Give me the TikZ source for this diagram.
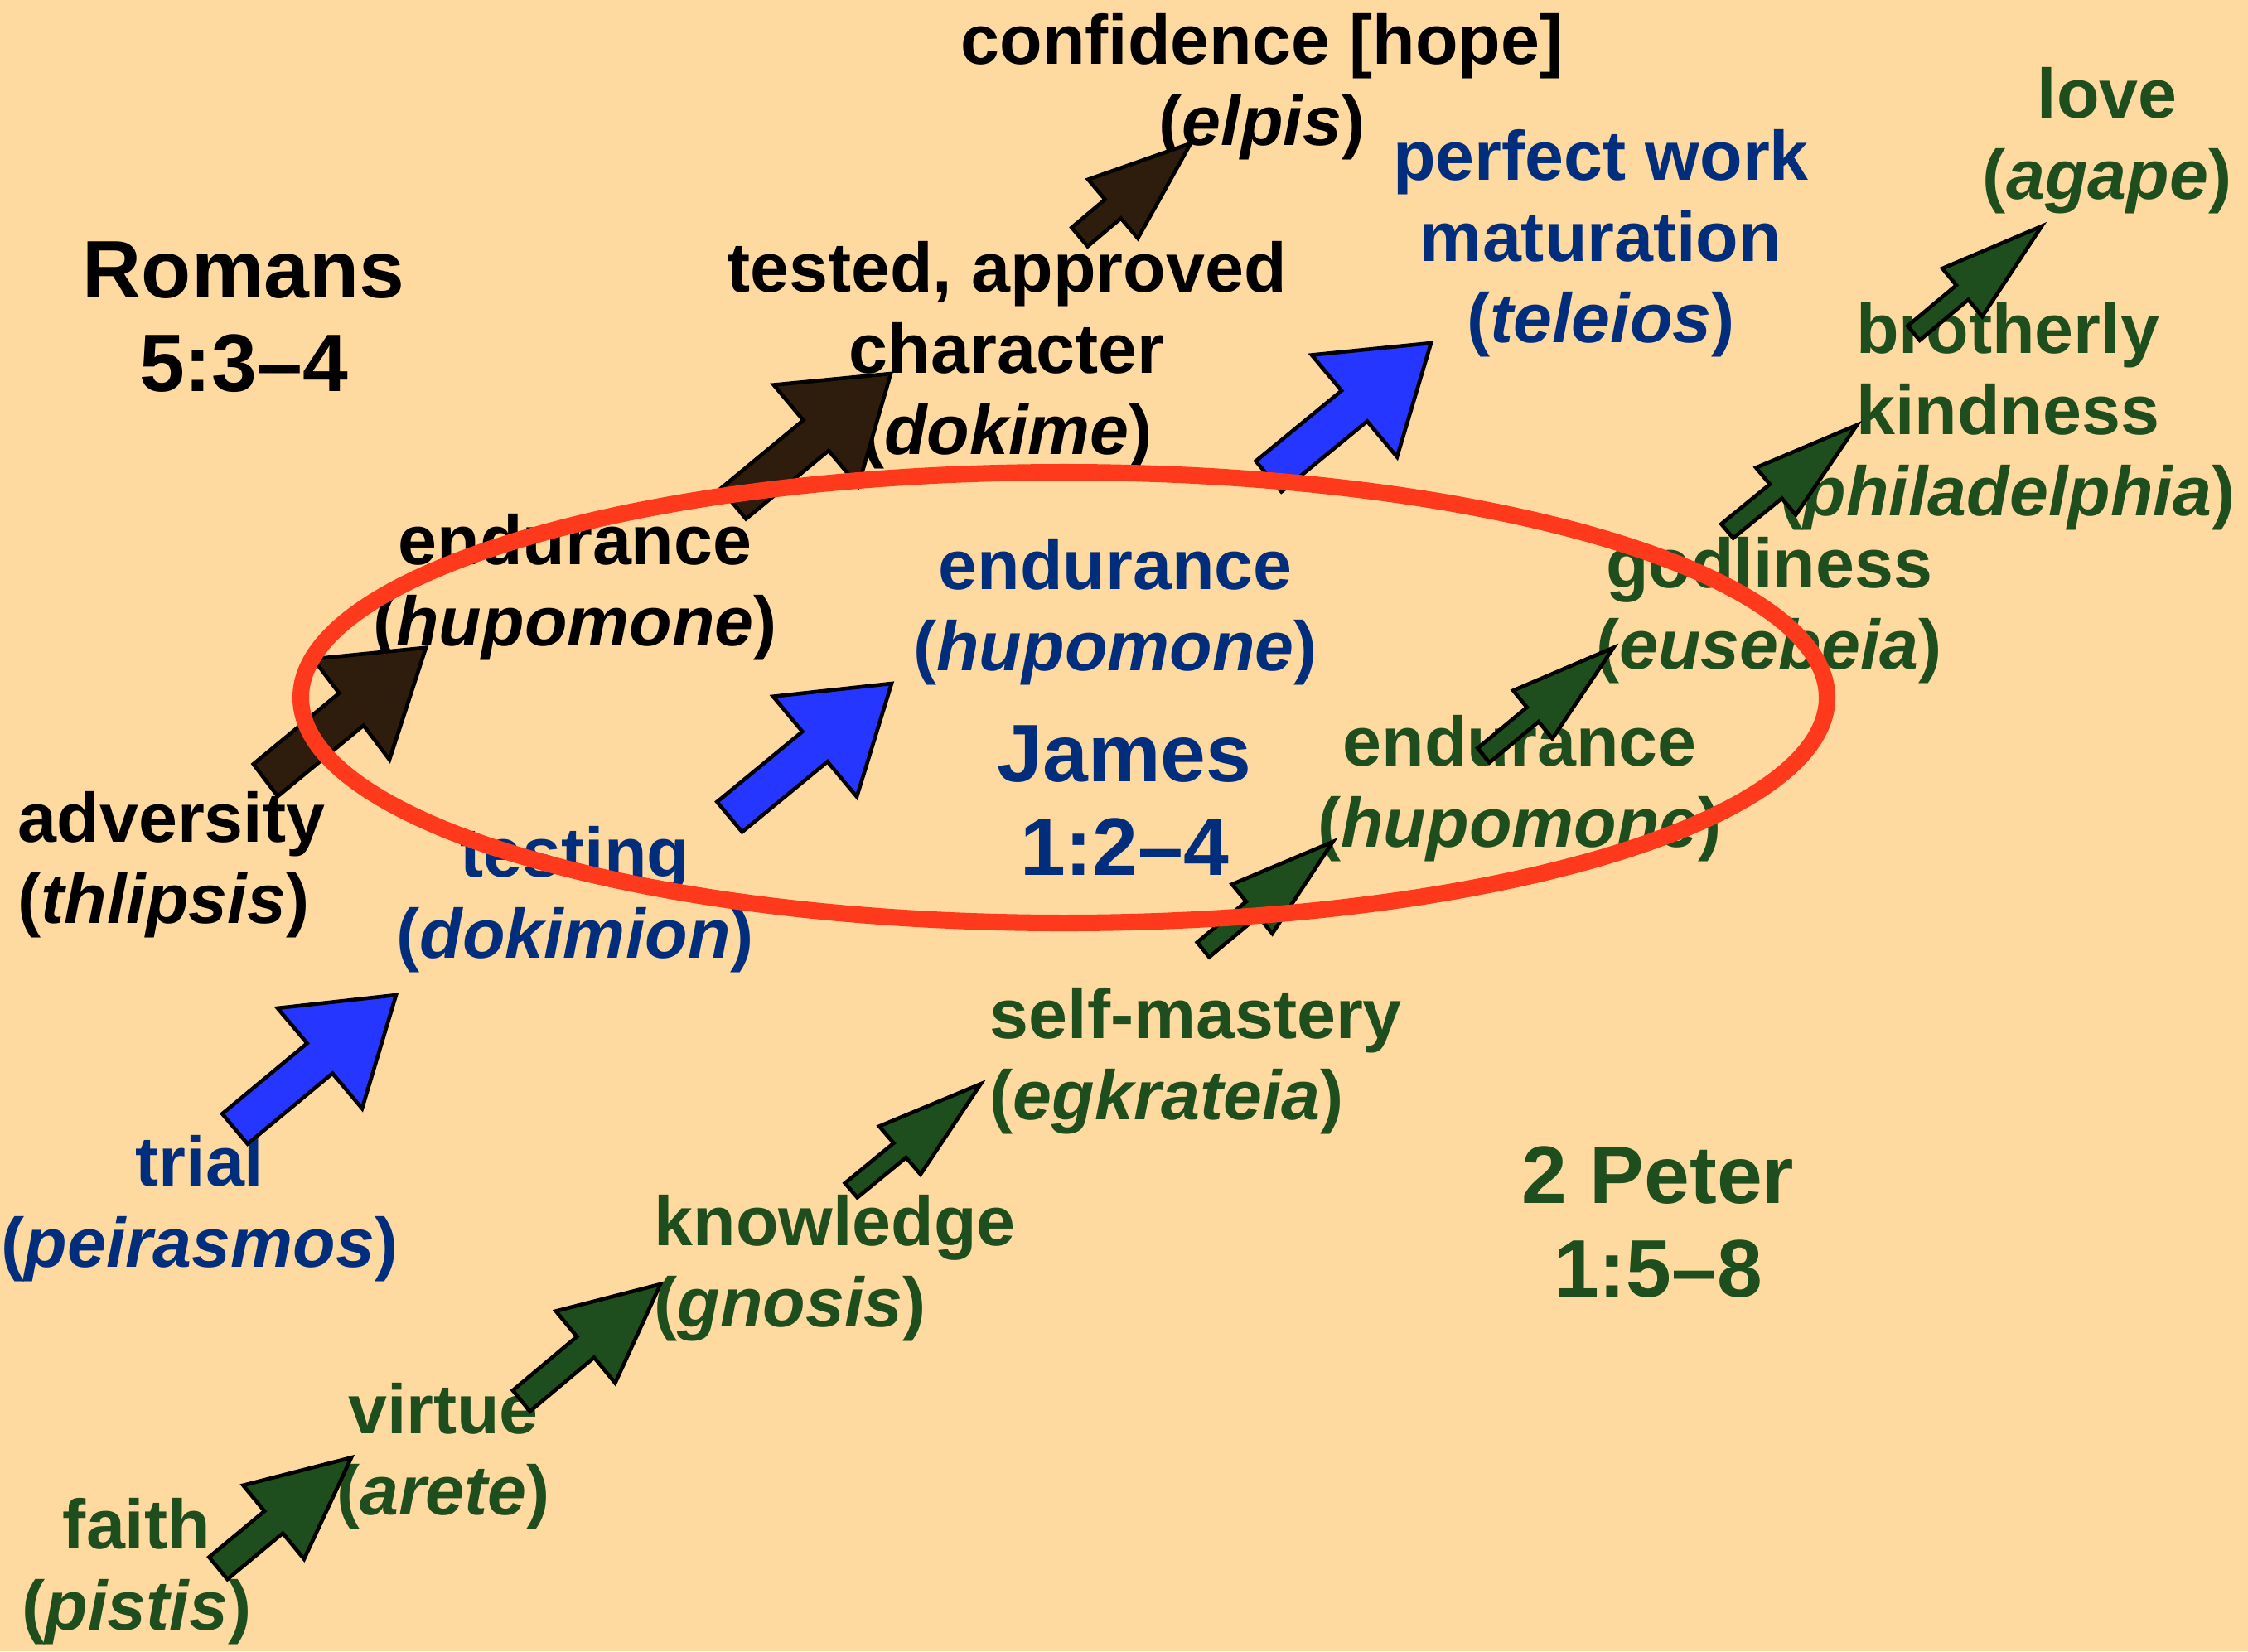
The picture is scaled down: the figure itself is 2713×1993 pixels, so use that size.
\documentclass[tikz,border=0pt]{standalone}
\usepackage{fontspec}
\setmainfont{Liberation Sans}
\usetikzlibrary{calc}
\definecolor{bgc}{HTML}{FED9A0}
\definecolor{txtblue}{RGB}{0,46,125}
\definecolor{txtgreen}{RGB}{30,77,30}
\definecolor{fillbrown}{RGB}{46,29,12}
\definecolor{fillblue}{RGB}{36,54,255}
\definecolor{fillgreen}{RGB}{30,77,30}
\definecolor{ringred}{RGB}{255,58,28}
\newcommand\fst{\rule{0pt}{20pt}}
\newcommand\tst{\rule{0pt}{24pt}}
% block arrow: #1 prefix (tail #1t, tip #1h), #2 head start fraction, #3 half head width vector, #4 shaft ratio, #5 fill
\newcommand\barrow[5]{%
  \draw[arrowline, fill=#5]
   ($(#1t)+#4*(#3)$) -- ($(#1t)!#2!(#1h)+#4*(#3)$) -- ($(#1t)!#2!(#1h)+(#3)$) -- (#1h)
   -- ($(#1t)!#2!(#1h)-(#3)$) -- ($(#1t)!#2!(#1h)-#4*(#3)$) -- ($(#1t)-#4*(#3)$) -- cycle;}
\begin{document}
\begin{tikzpicture}[x=0.01cm,y=-0.01cm,
  lbl/.style={anchor=north, inner sep=0pt, align=center, yshift=20pt,
    font=\bfseries\fontsize{24}{27.9}\selectfont},
  lbll/.style={lbl, anchor=north west, align=left},
  ttl/.style={anchor=north, inner sep=0pt, align=center, yshift=24pt,
    font=\bfseries\fontsize{28}{32}\selectfont},
  arrowline/.style={draw=black, line width=1.3pt, line join=miter},
  ring/.style={draw=ringred, line width=5.7pt}]
\fill[bgc] (0,0) rectangle (2713,1993);
\useasboundingbox (0,0) rectangle (2713,1993);

% ---- titles
\node[ttl, text=black] (romans) at (294,359) {\tst Romans\\5:3--4};
\node[ttl, text=txtblue] (james) at (1357,943) {\tst James\\1:2--4};
\node[ttl, text=txtgreen] (peter) at (2001,1452) {\tst 2 Peter\\1:5--8};

% ---- Romans chain (black)
\node[lbll, text=black] (thlipsis) at (21,1016) {\fst adversity\\(\textit{thlipsis})};
\node[lbl, text=black] (hupoR) at (694,681) {\fst endurance\\(\textit{hupomone})};
\node[lbl, text=black] (dokime) at (1215,352) {\fst tested, approved\\character\\(\textit{dokime})};
\node[lbl, text=black] (elpis) at (1523,77) {\fst confidence [hope]\\(\textit{elpis})};

% ---- James chain (blue)
\node[lbl, text=txtblue] (peirasmos) at (241,1431) {\fst trial\\(\textit{peirasmos})};
\node[lbl, text=txtblue] (dokimion) at (694,1058) {\fst testing\\(\textit{dokimion})};
\node[lbl, text=txtblue] (hupoJ) at (1346,711) {\fst endurance\\(\textit{hupomone})};
\node[lbl, text=txtblue] (teleios) at (1932,217) {\fst perfect work\\maturation\\(\textit{teleios})};

% ---- 2 Peter chain (green)
\node[lbl, text=txtgreen] (pistis) at (165,1869) {\fst faith\\(\textit{pistis})};
\node[lbl, text=txtgreen] (arete) at (535,1730) {\fst virtue\\(\textit{arete})};
\node[lbll, text=txtgreen] (gnosis) at (789,1503) {\fst knowledge\\(\textit{gnosis})};
\node[lbll, text=txtgreen] (egkrateia) at (1194,1253) {\fst self-mastery\\(\textit{egkrateia})};
\node[lbl, text=txtgreen] (hupoP) at (1834,924) {\fst endurance\\(\textit{hupomone})};
\node[lbl, text=txtgreen] (eusebeia) at (2135,709) {\fst godliness\\(\textit{eusebeia})};
\node[lbl, text=txtgreen] (philadelphia) at (2423,426) {\fst brotherly\\kindness\\(\textit{philadelphia})};
\node[lbl, text=txtgreen] (agape) at (2543,142) {\fst love\\(\textit{agape})};

% ---- arrow end points
\coordinate (a1t) at (1303,286);     \coordinate (a1h) at (1437,173);
\coordinate (a2t) at (885,608);      \coordinate (a2h) at (1075,451);
\coordinate (a3t) at (320.5,941.7);  \coordinate (a3h) at (514,781.7);
\coordinate (a4t) at (1531,575);     \coordinate (a4h) at (1727,414);
\coordinate (a5t) at (880.5,986);    \coordinate (a5h) at (1076,825);
\coordinate (a6t) at (283.5,1362.5); \coordinate (a6h) at (478,1201);
\coordinate (a7t) at (2309.5,402);   \coordinate (a7h) at (2464,273);
\coordinate (a8t) at (2084.5,641);   \coordinate (a8h) at (2241,513);
\coordinate (a9t) at (1790.4,911.7); \coordinate (a9h) at (1947.2,781.7);
\coordinate (a10t) at (1452,1146.3); \coordinate (a10h) at (1608.5,1016);
\coordinate (a11t) at (1027.2,1436.7); \coordinate (a11h) at (1183.6,1308.3);
\coordinate (a12t) at (629.2,1690.8);  \coordinate (a12h) at (797.1,1550);
\coordinate (a13t) at (263.4,1892.8);  \coordinate (a13h) at (424,1759.3);

% ---- arrows
\barrow{a1}{0.30}{30,35.5}{0.32}{fillbrown}
\barrow{a2}{0.525}{51,61}{0.30}{fillbrown}
\barrow{a3}{0.535}{46,60.8}{0.32}{fillbrown}
\barrow{a4}{0.528}{51.5,61.5}{0.30}{fillblue}
\barrow{a5}{0.527}{50.5,60.5}{0.30}{fillblue}
\barrow{a6}{0.527}{51,60.5}{0.30}{fillblue}
\barrow{a7}{0.38}{24,29}{0.30}{fillgreen}
\barrow{a8}{0.375}{24,28.5}{0.30}{fillgreen}
\barrow{a9}{0.379}{23.6,29}{0.30}{fillgreen}
\barrow{a10}{0.378}{24.3,29.7}{0.30}{fillgreen}
\barrow{a11}{0.376}{24.9,29}{0.30}{fillgreen}
\barrow{a12}{0.461}{35.8,43.4}{0.29}{fillgreen}
\barrow{a13}{0.416}{36.8,44.5}{0.30}{fillgreen}

% ---- red ring
\draw[ring] (1284,842) ellipse [x radius=921, y radius=272];
\end{tikzpicture}
\end{document}
